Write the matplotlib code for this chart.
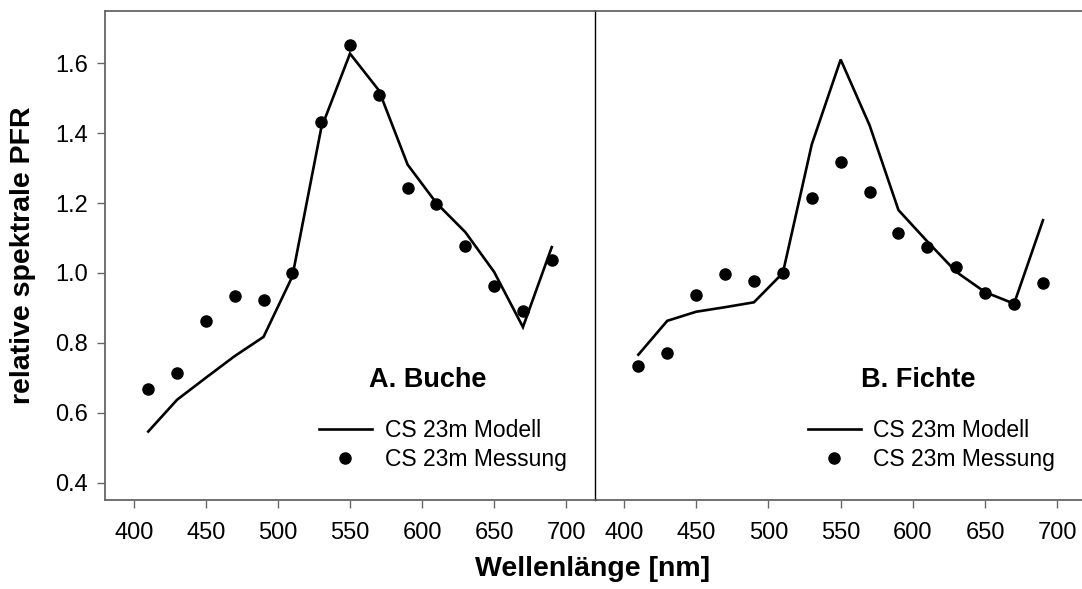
import matplotlib
matplotlib.use("Agg")
import matplotlib.pyplot as plt

plt.rcParams['font.family'] = ['Liberation Sans', 'DejaVu Sans']

wavelength = [410, 430, 450, 470, 490, 510, 530, 550, 570, 590, 610, 630, 650, 670, 690]

buche_modell = [0.546, 0.637, 0.70, 0.762, 0.817, 0.99, 1.414, 1.628, 1.523, 1.31, 1.20, 1.117, 1.003, 0.845, 1.074]
buche_messung = [0.669, 0.714, 0.863, 0.934, 0.923, 1.0, 1.431, 1.653, 1.509, 1.243, 1.197, 1.077, 0.963, 0.891, 1.037]

fichte_modell = [0.766, 0.863, 0.889, 0.902, 0.916, 1.0, 1.368, 1.611, 1.423, 1.18, 1.09, 1.003, 0.945, 0.912, 1.151]
fichte_messung = [0.734, 0.771, 0.937, 0.997, 0.977, 1.0, 1.214, 1.317, 1.233, 1.114, 1.074, 1.017, 0.943, 0.912, 0.971]

panel_titles = ["A. Buche", "B. Fichte"]
legend_labels = ["CS 23m Modell", "CS 23m Messung"]
x_ticks = [400, 450, 500, 550, 600, 650, 700]
y_ticks = [0.4, 0.6, 0.8, 1.0, 1.2, 1.4, 1.6]

W, H = 1082, 589
fig = plt.figure(figsize=(W / 100, H / 100), dpi=100)

def px_axes(x0, x1, ytop, ybot):
    return fig.add_axes([x0 / W, (H - ybot) / H, (x1 - x0) / W, (ybot - ytop) / H])

ax2 = px_axes(595, 1082, 11, 500)
ax1 = px_axes(105, 595, 11, 500)
ax1.patch.set_visible(False)

spine_gray = '#666666'
for i, (ax, model, meas, title) in enumerate(zip(
        [ax1, ax2], [buche_modell, fichte_modell], [buche_messung, fichte_messung], panel_titles)):
    ln, = ax.plot(wavelength, model, color='black', lw=1.9, solid_joinstyle='miter', label=legend_labels[0])
    pt, = ax.plot(wavelength, meas, 'o', color='black', ms=8, ls='none', label=legend_labels[1])
    ax.set_ylim(0.35, 1.75)
    ax.set_xticks(x_ticks)
    ax.set_xticklabels([str(t) for t in x_ticks])
    ax.tick_params(axis='x', direction='out', length=6, width=1, colors=spine_gray,
                   labelcolor='black', labelsize=17, pad=10)
    ax.text(604, 0.694, title, ha='center', va='center', fontsize=19.5, fontweight='bold')
    leg = ax.legend(handles=[ln, pt], loc='upper left', bbox_to_anchor=(0.437, 0.166),
                    frameon=False, fontsize=16.5, borderpad=0, borderaxespad=0,
                    handlelength=2.3, handletextpad=0.56, labelspacing=0.25, numpoints=1)
    ax.spines['top'].set_color(spine_gray)
    ax.spines['bottom'].set_color(spine_gray)
    ax.spines['top'].set_linewidth(1.3)
    ax.spines['bottom'].set_linewidth(1.3)

ax1.set_xlim(380, 720)
ax2.set_xlim(380, 717)

ax1.set_yticks(y_ticks)
ax1.set_yticklabels([f"{t:.1f}" for t in y_ticks])
ax1.tick_params(axis='y', direction='out', length=6, width=1, colors=spine_gray,
                labelcolor='black', labelsize=17, pad=6)
ax1.spines['left'].set_color(spine_gray)
ax1.spines['left'].set_linewidth(1.3)
ax1.spines['right'].set_color('black')
ax1.spines['right'].set_linewidth(1.0)

ax2.spines['left'].set_visible(False)
ax2.spines['right'].set_visible(False)
ax2.set_yticks([])

ax1.set_ylabel("relative spektrale PFR", fontsize=20.5, fontweight='bold', labelpad=14)
fig.text(593 / W, 1 - 569 / H, "Wellenlänge [nm]", ha='center', va='center',
         fontsize=20.5, fontweight='bold')

fig.savefig("out.png", dpi=100)
